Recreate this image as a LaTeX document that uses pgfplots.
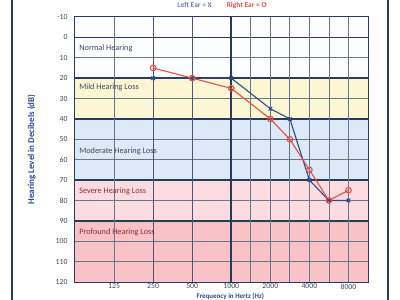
\documentclass[border=0pt]{standalone}
\usepackage{fontspec}
\setmainfont{Carlito}
\usepackage{pgfplots}
\pgfplotsset{compat=1.18}
\definecolor{gridc}{HTML}{2A3B5A}
\definecolor{bluec}{HTML}{2D4A8C}
\definecolor{redc}{HTML}{E0504A}
\definecolor{mildc}{HTML}{FBF6D4}
\definecolor{modc}{HTML}{DCE9F7}
\definecolor{sevc}{HTML}{FCDCE0}
\definecolor{profc}{HTML}{F8C2C7}
\definecolor{normc}{HTML}{FBFDFF}
\definecolor{labc}{HTML}{3E4A5E}
\definecolor{labr}{HTML}{8E2A38}
\begin{document}
\begin{tikzpicture}[x=1bp,y=1bp]
\clip (0,0) rectangle (400,300);
\fill[white] (0,0) rectangle (400,300);
\draw[gridc, line width=1.6bp] (12,-5) -- (12,305);
\draw[gridc, line width=1.6bp] (388,-5) -- (388,305);
\node[font=\fontsize{7.5}{8}\selectfont\bfseries, inner sep=0pt] at (222,294.5) {\textcolor{bluec!70}{Left Ear = X}\hspace{2em}\textcolor{redc}{Right Ear = O}};
\begin{axis}[
  at={(75bp,18bp)}, anchor=south west, scale only axis,
  width=293bp, height=265bp,
  xmin=0, xmax=7.5, ymin=-10, ymax=120, y dir=reverse,
  axis line style={gridc, line width=1.8bp},
  xtick={1,2,3,4,5,6,7},
  xticklabels={125,250,500,1000,2000,4000,8000},
  ytick={-10,0,10,20,30,40,50,60,70,80,90,100,110,120},
  major tick length=0pt,
  /pgf/number format/assume math mode=true,
  tick label style={font=\fontsize{7.8}{8}\selectfont, text=labc},
  yticklabel style={xshift=-4bp},
  xticklabel style={yshift=1.8bp},
  ylabel={Hearing Level in Decibels (dB)},
  ylabel style={font=\fontsize{9}{10}\selectfont\bfseries, text=bluec, at={(axis description cs:-0.122,0.5)}},
  xlabel={Frequency in Hertz (Hz)},
  xlabel style={font=\fontsize{7}{8}\selectfont\bfseries, text=bluec, inner sep=0pt, anchor=center, at={(axis description cs:0.53,-0.053)}},
  clip=true,
]
\fill[normc] (axis cs:0,-10) rectangle (axis cs:7.5,20);
\fill[mildc] (axis cs:0,20) rectangle (axis cs:7.5,40);
\fill[modc] (axis cs:0,40) rectangle (axis cs:7.5,70);
\fill[sevc] (axis cs:0,70) rectangle (axis cs:7.5,90);
\fill[profc] (axis cs:0,90) rectangle (axis cs:7.5,120);
\pgfplotsinvokeforeach{10,30,50,60,80,100,110}{
  \draw[gridc!70, line width=0.8bp] (axis cs:0,#1) -- (axis cs:7.5,#1);
}
\pgfplotsinvokeforeach{0,20,40,70,90}{
  \draw[gridc, line width=1.5bp] (axis cs:0,#1) -- (axis cs:7.5,#1);
}
\pgfplotsinvokeforeach{1,4.5,5,5.5,6,6.5,7}{
  \draw[gridc!70, line width=0.8bp] (axis cs:#1,-10) -- (axis cs:#1,120);
}
\pgfplotsinvokeforeach{2,3}{
  \draw[gridc!85, line width=1bp] (axis cs:#1,-10) -- (axis cs:#1,120);
}
\draw[gridc, line width=1.6bp] (axis cs:4,-10) -- (axis cs:4,120);
\node[anchor=west, font=\fontsize{8.3}{9}\selectfont, text=labc] at (axis cs:0.02,5.5) {Normal Hearing};
\node[anchor=west, font=\fontsize{8.3}{9}\selectfont, text=labc] at (axis cs:0.02,24.5) {Mild Hearing Loss};
\node[anchor=west, font=\fontsize{8.3}{9}\selectfont, text=labc] at (axis cs:0.02,56) {Moderate Hearing Loss};
\node[anchor=west, font=\fontsize{8.3}{9}\selectfont, text=labr] at (axis cs:0.02,75.5) {Severe Hearing Loss};
\node[anchor=west, font=\fontsize{8.3}{9}\selectfont, text=labr] at (axis cs:0.02,95.5) {Profound Hearing Loss};
\addplot[bluec, line width=1.1bp, mark=x, mark size=2.5bp] coordinates {
 (2,20) (3,20) (4,20) (5,35) (5.5,40) (6,70) (6.5,80) (7,80)};
\addplot[redc, line width=1.1bp, mark=o, mark size=2.8bp, mark options={fill=none}] coordinates {
 (2,15) (3,20) (4,25) (5,40) (5.5,50) (6,65) (6.5,80) (7,75)};
\end{axis}
\end{tikzpicture}
\end{document}
